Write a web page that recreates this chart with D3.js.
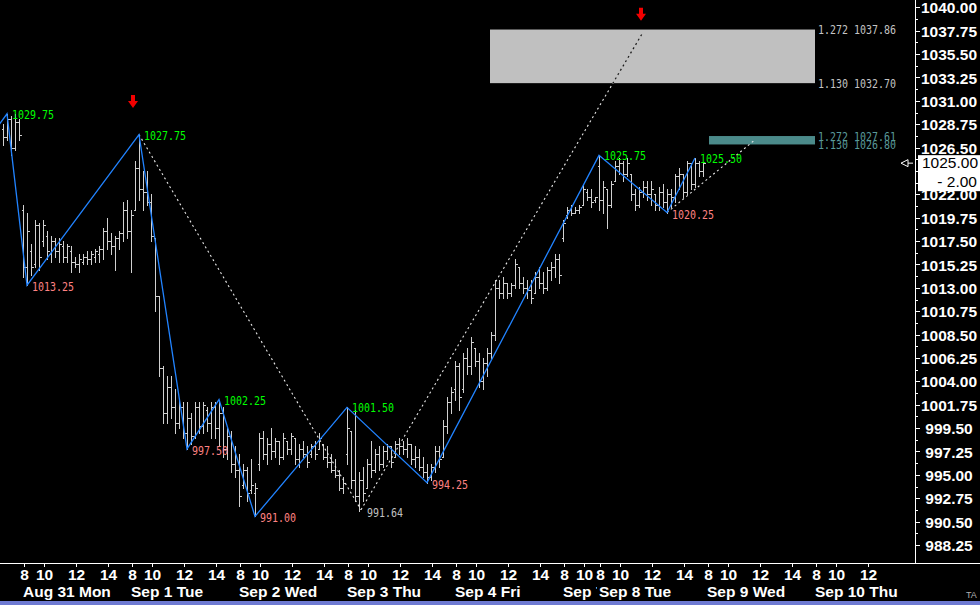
<!DOCTYPE html>
<html><head><meta charset="utf-8">
<script src="https://cdn.jsdelivr.net/npm/d3@7"></script>
<style>
html,body{margin:0;padding:0;background:#000;overflow:hidden}
svg{display:block}
</style></head><body>
<svg id="chart" width="980" height="605"></svg>
<script>
// ---------------- DATA ----------------
const highs = [1028.75,1029.75,1029.50,1029.75,1029.25,
1021.00,1020.25,1017.25,1019.50,1019.25,1019.50,1018.50,1018.00,1017.75,1017.75,1017.50,1017.25,1017.00,1016.00,1016.25,1016.25,1016.50,1016.50,1016.75,1017.00,1018.75,1019.75,1018.25,1018.00,1018.50,1021.25,1021.50,
1020.50,1025.25,1027.75,1024.25,1024.25,1022.00,1017.75,1012.25,1005.50,1004.50,1004.50,1003.25,1002.25,1002.00,1002.00,1001.00,1002.00,1002.00,1002.00,1001.50,1002.00,1002.00,1002.25,1001.50,999.50,999.25,997.75,
997.00,996.00,995.75,996.50,994.25,999.00,999.25,998.50,999.50,998.50,998.25,999.00,998.25,999.00,998.50,998.00,998.25,997.75,998.00,998.25,999.00,998.00,997.75,997.00,996.50,995.50,994.75,
1001.50,999.25,1001.25,995.25,995.75,996.50,998.25,997.50,997.75,997.75,998.00,997.75,998.25,998.50,998.25,998.50,998.00,997.75,997.50,996.75,996.00,996.00,997.75,997.75,1000.25,1002.50,1003.50,
1006.00,1005.75,1006.75,1007.25,1008.25,1007.25,1006.75,1006.25,1007.25,1008.75,1013.75,1013.75,1014.00,1013.50,1013.50,1015.75,1015.00,1014.00,1013.75,1013.75,1014.50,1015.00,1014.50,1015.00,1015.50,1016.25,1016.25,
1019.50,1020.75,1021.00,1020.75,1021.00,1023.00,1022.50,1022.50,1021.75,
1025.75,1023.25,1022.50,1023.25,1025.25,1025.50,1025.25,1025.50,1024.00,1022.50,1022.75,1023.25,1023.25,1023.25,1022.00,1022.75,1023.00,1022.50,1022.50,1024.00,1024.50,1024.00,1025.25,1025.00,1025.50,1025.25,1025.00];
const lows = [1026.75,1027.25,1025.75,1026.25,1027.25,
1014.00,1013.25,1014.25,1015.00,1014.75,1017.00,1015.75,1015.50,1016.00,1015.50,1015.50,1015.50,1014.50,1015.00,1014.50,1015.25,1015.25,1015.25,1015.50,1015.50,1015.75,1016.75,1016.25,1014.75,1016.75,1017.50,1017.75,
1014.50,1020.50,1021.50,1020.50,1021.00,1017.50,1010.75,1004.50,1000.00,1000.00,1000.50,999.00,999.50,998.50,997.50,998.00,998.50,999.00,999.00,999.25,998.50,998.50,997.75,996.75,996.50,995.25,994.75,
992.00,993.75,992.50,993.25,991.00,995.50,996.50,996.00,996.50,996.75,996.00,996.50,997.00,997.00,996.00,995.75,996.75,995.75,996.75,996.50,997.50,996.50,995.75,995.25,994.75,993.50,993.25,
996.00,993.75,992.50,991.50,992.50,993.75,994.75,995.25,995.50,995.75,996.50,995.75,996.75,997.00,997.00,996.75,996.00,995.75,995.50,994.75,994.25,994.50,995.25,995.75,996.75,999.00,1001.00,
1002.25,1001.25,1003.00,1004.75,1004.75,1005.50,1003.50,1003.25,1004.50,1006.25,1008.00,1012.00,1012.00,1012.00,1012.25,1013.00,1013.00,1012.50,1012.00,1011.50,1012.50,1013.00,1012.50,1012.75,1013.75,1014.00,1013.50,
1017.50,1019.75,1020.00,1020.25,1020.25,1021.00,1021.50,1020.75,1021.25,
1020.50,1020.25,1018.75,1020.75,1023.25,1024.00,1023.25,1023.75,1021.50,1020.50,1020.75,1021.75,1021.50,1021.00,1020.50,1020.50,1020.75,1020.25,1020.75,1021.25,1022.50,1021.75,1022.00,1022.50,1022.75,1023.75,1023.75];
const opens = [1028.25,1027.50,1029.25,1026.50,1029.00,
1020.50,1015.00,1016.50,1015.25,1019.00,1017.50,1018.00,1016.25,1017.50,1016.50,1017.00,1016.00,1016.50,1015.50,1015.25,1015.50,1016.00,1015.75,1016.00,1016.25,1016.75,1018.50,1017.50,1017.00,1017.75,1018.25,1020.50,
1018.50,1020.50,1024.50,1022.50,1022.25,1021.25,1017.75,1012.25,1005.25,1001.00,1003.50,1001.50,1000.00,1001.50,999.00,1000.50,998.75,1001.50,999.75,1001.25,1000.00,1001.50,999.50,1001.00,997.50,998.75,996.00,
995.50,994.00,995.50,993.50,993.25,996.00,998.50,997.00,998.00,997.25,998.25,996.75,998.25,997.50,998.50,996.50,997.50,997.00,997.00,997.75,997.50,998.00,996.75,996.25,995.50,995.00,993.75,
997.00,999.25,994.50,993.00,994.50,993.75,996.00,995.50,997.00,996.00,997.25,997.75,996.75,998.00,997.75,997.50,998.00,996.50,996.75,995.75,995.25,994.75,995.75,997.25,996.75,999.75,1002.00,
1003.25,1005.50,1003.25,1006.25,1005.50,1007.25,1006.00,1004.00,1005.75,1006.75,1008.50,1013.00,1012.50,1013.50,1012.50,1013.25,1015.00,1013.50,1013.00,1012.75,1012.50,1014.00,1013.50,1013.00,1014.75,1015.00,1015.75,
1017.75,1020.00,1020.50,1020.25,1020.50,1021.00,1022.25,1021.75,1021.50,
1024.75,1021.50,1022.50,1021.00,1023.25,1024.75,1025.00,1024.00,1024.00,1022.00,1021.00,1022.25,1022.75,1022.00,1022.00,1021.00,1022.25,1021.25,1022.00,1021.75,1023.75,1024.00,1022.25,1025.00,1023.00,1025.00,1024.25];
const closes = [1027.50,1029.25,1026.50,1029.00,1027.75,
1015.00,1018.50,1015.00,1019.00,1016.00,1019.00,1016.50,1017.50,1016.50,1017.25,1016.00,1017.00,1015.50,1015.25,1015.75,1016.00,1015.75,1016.25,1016.50,1016.75,1018.50,1017.50,1017.00,1017.75,1018.25,1020.50,1018.50,
1020.00,1024.50,1022.50,1022.25,1021.25,1018.00,1012.25,1005.25,1001.00,1003.50,1001.50,1000.00,1001.50,999.00,1000.50,998.75,1001.50,999.75,1001.75,1000.00,1001.50,999.50,1001.00,997.50,998.75,996.00,995.50,
993.00,995.50,993.25,994.00,993.75,998.50,997.00,998.00,997.25,998.25,996.75,998.50,997.50,998.75,996.50,997.50,997.00,996.25,997.75,997.00,998.50,996.75,996.25,995.50,995.00,993.75,994.25,
999.50,994.50,993.00,994.50,993.25,996.00,995.50,997.00,996.00,997.25,997.75,996.25,998.00,997.75,997.50,998.00,996.50,996.75,995.75,995.25,994.75,995.75,997.25,996.50,999.75,1002.00,1003.00,
1005.50,1002.50,1006.25,1005.50,1007.75,1006.00,1004.00,1005.75,1006.75,1008.50,1013.00,1012.50,1013.50,1012.50,1013.25,1015.25,1013.50,1013.00,1012.75,1012.00,1014.00,1013.50,1013.00,1014.75,1015.00,1015.75,1014.25,
1019.25,1020.50,1020.25,1020.50,1020.75,1022.50,1021.75,1021.25,1021.75,
1021.50,1022.75,1021.00,1023.00,1024.75,1025.00,1024.00,1025.00,1022.00,1021.00,1022.25,1022.75,1022.00,1022.50,1021.00,1022.25,1021.25,1022.00,1021.75,1023.75,1024.00,1022.25,1025.00,1023.00,1025.00,1024.25,1025.00];

// zigzag pivots (bar index, price, H/L)
const pivotIdx  = [-1, 1, 6, 34, 46, 54, 63, 86, 106, 149, 166, 173];
const pivotVal  = [1028.70, 1029.75, 1013.25, 1027.75, 997.50, 1002.25, 991.00, 1001.50, 994.25, 1025.75, 1020.25, 1025.50];
const pivotType = ["L","H","L","H","L","H","L","H","L","H","L","H"];

// projection (dotted) lines
const projFromIdx = [34, 89.5, 166];
const projFromVal = [1027.75, 991.64, 1020.25];
const projToIdx   = [89.5, 160, 188];
const projToVal   = [991.64, 1037.6, 1027.25];
const projNoteIdx = 89.5, projNoteVal = 991.64;

// fib target zones
const fibStartIdx = [121.75, 176.5];
const fibEndIdx   = [203, 203];
const fibTopVal   = [1037.86, 1027.61];
const fibBotVal   = [1032.70, 1026.80];
const fibTopRatio = ["1.272", "1.272"];
const fibBotRatio = ["1.130", "1.130"];

// signal arrows
const arrowIdx = [32.5, 159.5];
const arrowVal = [1030.3, 1038.7];

// last price
const lastPrice = 1025.00, netChange = "- 2.00";

// axes
const yTickValues = [988.25,990.50,992.75,995.00,997.25,999.50,1001.75,1004.00,1006.25,1008.50,1010.75,1013.00,1015.25,1017.50,1019.75,1022.00,1024.25,1026.50,1028.75,1031.00,1033.25,1035.50,1037.75,1040.00];
const dayLabels = ["Aug 31 Mon","Sep 1 Tue","Sep 2 Wed","Sep 3 Thu","Sep 4 Fri","Sep 7 Mon","Sep 8 Tue","Sep 9 Wed","Sep 10 Thu"];
const dayStartIdx = [5, 32, 59, 86, 113, 140, 149, 176, 203];
const dayHours = [["8","10","12","14"],["8","10","12","14"],["8","10","12","14"],["8","10","12","14"],["8","10","12","14"],["8","10"],["8","10","12","14"],["8","10","12","14"],["8","10","12"]];
const hourBarOffset = {"8":0, "10":5, "12":13, "14":21};

// ---------------- DRAW ----------------
const W = 980, H = 605, plotR = 915, axisY = 563;
const svg = d3.select("#chart");
svg.append("rect").attr("width", W).attr("height", H).attr("fill", "#000");

const x = d3.scaleLinear().domain([0, 1]).range([3, 7]);
const y = d3.scaleLinear().domain([988.25, 1040]).range([545, 7.3]);

const defs = svg.append("defs");
defs.append("clipPath").attr("id", "plotClip").append("rect").attr("width", plotR).attr("height", axisY);
defs.append("clipPath").attr("id", "boxClip").append("rect")
  .attr("x", x(fibStartIdx[0])).attr("y", y(fibTopVal[0]))
  .attr("width", x(fibEndIdx[0]) - x(fibStartIdx[0])).attr("height", y(fibBotVal[0]) - y(fibTopVal[0]));

const g = svg.append("g").attr("clip-path", "url(#plotClip)");

const boxFill = ["#c0c0c0", "#4b8a8a"];
const boxText = ["#c4c4c4", "#5a9a9a"];
const monoFont = "'DejaVu Sans Mono', 'Liberation Mono', monospace";

fibStartIdx.forEach((s, k) => {
  g.append("rect")
    .attr("x", x(s)).attr("y", y(fibTopVal[k]))
    .attr("width", x(fibEndIdx[k]) - x(s)).attr("height", y(fibBotVal[k]) - y(fibTopVal[k]))
    .attr("fill", boxFill[k]);
});

// OHLC bars
const bars = d3.range(highs.length).map(i => ({i, h: highs[i], l: lows[i], o: opens[i], c: closes[i]}));
g.append("g").selectAll("path").data(bars).join("path")
  .attr("d", d => {
    const px = Math.round(x(d.i)) + 0.5;
    const yo = Math.round(y(d.o)) + 0.5, yc = Math.round(y(d.c)) + 0.5;
    return `M${px},${Math.round(y(d.h))}V${Math.round(y(d.l)) + 1}M${px - 2},${yo}H${px}M${px},${yc}H${px + 2}`;
  })
  .attr("fill", "none").attr("stroke", "#d0d0d0").attr("stroke-width", 1)
  .attr("shape-rendering", "crispEdges");

// dotted projections
const proj = projFromIdx.map((f, k) => [[f, projFromVal[k]], [projToIdx[k], projToVal[k]]]);
const line = d3.line().x(d => x(d[0])).y(d => y(d[1]));
g.append("g").selectAll("path").data(proj).join("path")
  .attr("d", line).attr("fill", "none").attr("stroke", "#e8e8e8")
  .attr("stroke-width", 1.1).attr("stroke-dasharray", "2 3");
g.append("g").attr("clip-path", "url(#boxClip)").selectAll("path").data(proj).join("path")
  .attr("d", line).attr("fill", "none").attr("stroke", "#1a1a1a")
  .attr("stroke-width", 1.3).attr("stroke-dasharray", "2 3");

// zigzag
const piv = pivotIdx.map((p, k) => [p, pivotVal[k], pivotType[k]]);
g.append("path").attr("d", line(piv)).attr("fill", "none")
  .attr("stroke", "#2183ff").attr("stroke-width", 1.3);

// pivot labels
const fmt = d3.format(".2f");
function monoText(sel, txt, px, cy, color) {
  sel.append("text").attr("x", px).attr("y", cy + 4.4)
    .attr("font-family", monoFont).attr("font-size", 12)
    .attr("textLength", 6 * txt.length).attr("lengthAdjust", "spacingAndGlyphs")
    .attr("fill", color).text(txt);
}
piv.slice(1).forEach(p => {
  const isH = p[2] === "H";
  monoText(g, fmt(p[1]), x(p[0]) + 5, y(p[1]) + (isH ? 0.6 : 1.6), isH ? "#00ff00" : "#ff8282");
});
monoText(g, fmt(projNoteVal), x(projNoteIdx) + 6, y(projNoteVal) + 2.5, "#c0c0c0");

// red arrows
arrowIdx.forEach((a, k) => {
  const ax = x(a), ty = y(arrowVal[k]);
  g.append("path")
    .attr("d", `M${ax - 2},${ty - 13}H${ax + 2}V${ty - 7}H${ax + 5}L${ax},${ty}L${ax - 5},${ty - 7}H${ax - 2}Z`)
    .attr("fill", "#f20000");
});

// fib labels
fibStartIdx.forEach((s, k) => {
  monoText(svg, fibTopRatio[k] + " " + fmt(fibTopVal[k]), x(fibEndIdx[k]) + 3, y(fibTopVal[k]) + 0.2, boxText[k]);
  monoText(svg, fibBotRatio[k] + " " + fmt(fibBotVal[k]), x(fibEndIdx[k]) + 3, y(fibBotVal[k]) + 0.2, boxText[k]);
});

// ---------- Y axis ----------
const axisFont = "'Liberation Sans', Arial, sans-serif";
const priceBoxTop = y(lastPrice) - 8, priceBoxBot = y(lastPrice) + 28;
svg.append("line").attr("x1", plotR + 0.5).attr("x2", plotR + 0.5).attr("y1", 0).attr("y2", axisY)
  .attr("stroke", "#fff").attr("shape-rendering", "crispEdges");
const yMinor = yTickValues.slice(0, -1).map((v, k) => (v + yTickValues[k + 1]) / 2);
// labels hidden under the last-price box are not drawn
const yLabelled = yTickValues.filter(v => y(v) < priceBoxTop || y(v) > priceBoxBot - 4);
const yAxisG = svg.append("g").attr("transform", `translate(${plotR},0)`)
  .call(d3.axisRight(y).tickValues(yLabelled).tickSize(5).tickPadding(0).tickFormat(fmt));
yAxisG.select(".domain").remove();
yAxisG.selectAll(".tick line").attr("stroke", "#fff").attr("shape-rendering", "crispEdges");
yAxisG.selectAll(".tick text").attr("x", 34).attr("text-anchor", "middle").attr("dy", "0.36em")
  .attr("fill", "#fff").attr("font-family", axisFont).attr("font-weight", "bold").attr("font-size", 15.5);
const yMinorG = svg.append("g").attr("transform", `translate(${plotR},0)`)
  .call(d3.axisRight(y).tickValues(yMinor.concat(yTickValues.filter(v => !yLabelled.includes(v)))).tickSize(3).tickFormat(""));
yMinorG.select(".domain").remove();
yMinorG.selectAll(".tick line").attr("stroke", "#fff").attr("shape-rendering", "crispEdges");

// ---------- X axis ----------
svg.append("line").attr("x1", 0).attr("x2", W).attr("y1", axisY + 0.5).attr("y2", axisY + 0.5)
  .attr("stroke", "#fff").attr("shape-rendering", "crispEdges");
const hourTicks = [];
dayStartIdx.forEach((s, k) => dayHours[k].forEach(h => hourTicks.push({idx: s + hourBarOffset[h], label: h})));
const hourLabelMap = new Map(hourTicks.map(t => [t.idx, t.label]));
const xAxisG = svg.append("g").attr("transform", `translate(1,${axisY})`)
  .call(d3.axisBottom(x).tickValues(hourTicks.map(t => t.idx)).tickSize(4).tickPadding(0)
    .tickFormat(v => hourLabelMap.get(v)));
xAxisG.select(".domain").remove();
xAxisG.selectAll(".tick line").attr("stroke", "#fff").attr("shape-rendering", "crispEdges");
xAxisG.selectAll(".tick text").attr("y", 16.5).attr("dy", 0).attr("fill", "#fff")
  .attr("font-family", axisFont).attr("font-weight", "bold").attr("font-size", 15.5);

dayLabels.forEach((lab, k) => {
  const x0 = x(dayStartIdx[k]);
  const next = k + 1 < dayStartIdx.length ? x(dayStartIdx[k + 1]) - 1 : W;
  defs.append("clipPath").attr("id", "dayClip" + k).append("rect")
    .attr("x", x0 - 3).attr("y", 580).attr("width", next - x0 + 3).attr("height", 20);
  const dg = svg.append("g").attr("clip-path", `url(#dayClip${k})`);
  const t = dg.append("text").attr("x", x0).attr("y", 596.5)
    .attr("fill", "#fff").attr("font-family", axisFont).attr("font-weight", "bold")
    .attr("font-size", 15.5).text(lab);
  const bb = t.node().getBBox();
  dg.insert("rect", "text").attr("x", bb.x - 2).attr("y", 583).attr("width", bb.width + 3)
    .attr("height", 16).attr("fill", "#000");
});

// ---------- last price marker ----------
const yl = y(lastPrice);
svg.append("path").attr("d", `M901,${yl}L908,${yl - 3.5}V${yl + 3.5}Z M908,${yl}H913`)
  .attr("fill", "none").attr("stroke", "#fff").attr("stroke-width", 1);
svg.append("rect").attr("x", 918).attr("y", priceBoxTop).attr("width", W - 918).attr("height", priceBoxBot - priceBoxTop).attr("fill", "#fff");
svg.append("text").attr("x", 978).attr("y", yl + 5.2).attr("text-anchor", "end")
  .attr("font-family", axisFont).attr("font-size", 15.5).attr("fill", "#000").text(fmt(lastPrice));
svg.append("text").attr("x", 977).attr("y", yl + 23.5).attr("text-anchor", "end")
  .attr("font-family", axisFont).attr("font-size", 15.5).attr("fill", "#000").text(netChange);

// footer
svg.append("text").attr("x", 966).attr("y", 598).attr("font-family", axisFont)
  .attr("font-size", 9).attr("fill", "#b0b0b0").text("TA");
svg.append("rect").attr("x", 0).attr("y", 601).attr("width", W).attr("height", 4).attr("fill", "#6e7ad2");
</script>
</body></html>
